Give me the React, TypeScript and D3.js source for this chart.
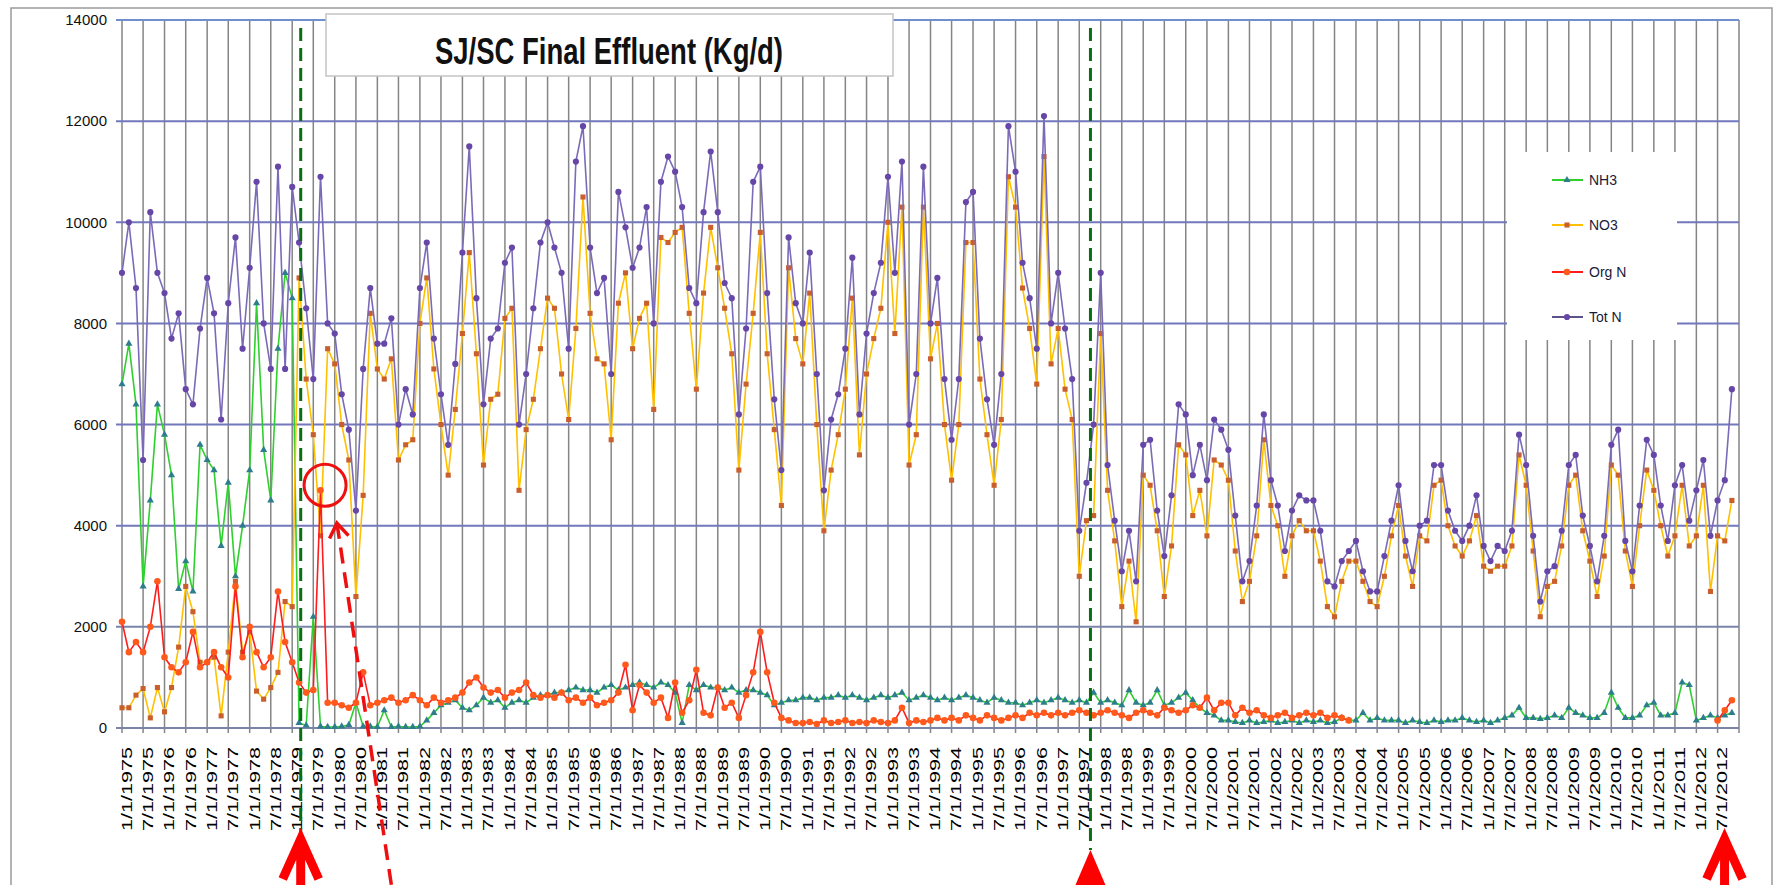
import React, { useEffect, useRef } from 'react';
import * as d3 from 'd3';

const W = 1779;
const H = 885;

// bimonthly samples (Jan, Mar, May, Jul, Sep, Nov), 1975 .. 2012, kg/d
const startYear = 1975;

const totN = [
  9000, 10000, 8700, 5300, 10200, 9000,
  8600, 7700, 8200, 6700, 6400, 7900,
  8900, 8200, 6100, 8400, 9700, 7500,
  9100, 10800, 8000, 7100, 11100, 7100,
  10700, 9600, 8300, 6900, 10900, 8000,
  7800, 6600, 5900, 4300, 7100, 8700,
  7600, 7600, 8100, 6000, 6700, 6200,
  8700, 9600, 7700, 6600, 5600, 7200,
  9400, 11500, 8500, 6400, 7700, 7900,
  9200, 9500, 6000, 7000, 8300, 9600,
  10000, 9500, 9000, 7500, 11200, 11900,
  9500, 8600, 8900, 7000, 10600, 9900,
  9100, 9500, 10300, 8000, 10800, 11300,
  11000, 10300, 8700, 8400, 10200, 11400,
  10200, 8800, 8500, 6200, 7900, 10800,
  11100, 8600, 6500, 5100, 9700, 8400,
  8000, 9400, 7000, 4700, 6100, 6600,
  7500, 9300, 6200, 7800, 8600, 9200,
  10900, 9000, 11200, 6000, 7000, 11100,
  8000, 8900, 6900, 5700, 6900, 10400,
  10600, 7700, 6500, 5600, 7000, 11900,
  11000, 9200, 8500, 7500, 12100, 8000,
  9000, 7900, 6900, 3900, 4850, 6000,
  9000, 5200, 4100, 3100, 3900, 2900,
  5600, 5700, 4300, 3400, 4600, 6400,
  6200, 5000, 5600, 4900, 6100, 5900,
  5500, 4200, 2900, 3300, 4400, 6200,
  4900, 4400, 3500, 4300, 4600, 4500,
  4500, 3900, 2900, 2800, 3300, 3500,
  3700, 3100, 2700, 2700, 3400, 4100,
  4800, 3700, 3100, 4000, 4100, 5200,
  5200, 4300, 3900, 3700, 4000, 4600,
  3600, 3300, 3600, 3500, 3900, 5800,
  5200, 3800, 2500, 3100, 3200, 3900,
  5200, 5400, 4200, 3600, 2900, 3800,
  5600, 5900, 3700, 3100, 4400, 5700,
  5400, 4400, 3700, 4800, 5200, 4100,
  4700, 5300, 3800, 4500, 4900, 6700,
];

const no3 = [
  400, 400, 650, 780, 200, 800,
  320, 800, 1600, 2800, 2300, 1300,
  1300, 1400, 240, 1500, 2900, 1500,
  1900, 730, 570, 800, 1100, 2500,
  2400, 8900, 6900, 5800, 3800, 7500,
  7200, 6000, 5300, 2600, 4600, 8200,
  7100, 6900, 7300, 5300, 5600, 5700,
  8000, 8900, 7100, 6000, 5000, 6300,
  7800, 9400, 7400, 5200, 6500, 6600,
  8100, 8300, 4700, 5900, 6500, 7500,
  8500, 8300, 7000, 6100, 7900, 10500,
  8200, 7300, 7200, 5700, 8400, 9000,
  7500, 8100, 8400, 6300, 9700, 9600,
  9800, 9900, 8200, 6700, 8600, 9900,
  9100, 8300, 7400, 5100, 6800, 8200,
  9800, 7400, 5900, 4400, 9100, 7700,
  7200, 8600, 6000, 3900, 5100, 5800,
  6700, 8500, 5400, 7000, 7700, 8300,
  10000, 7800, 10300, 5200, 5800, 10300,
  7300, 8000, 6000, 4900, 6000, 9600,
  9600, 6900, 5800, 4800, 6100, 10900,
  10300, 8700, 7900, 6800, 11300, 7200,
  7900, 6700, 6100, 3000, 4100, 4200,
  7800, 4700, 3700, 2400, 3300, 2100,
  5000, 4800, 3900, 2600, 3600, 5600,
  5400, 4200, 4700, 3800, 5300, 5200,
  4900, 3500, 2500, 2900, 3800, 5700,
  4400, 4000, 3000, 3800, 4100, 3900,
  3900, 3300, 2400, 2200, 2900, 3300,
  3300, 2900, 2500, 2400, 3000, 3800,
  4400, 3400, 2800, 3800, 3700, 4800,
  4900, 4000, 3600, 3400, 3700, 4200,
  3200, 3100, 3200, 3200, 3600, 5400,
  4800, 3500, 2200, 2800, 2900, 3600,
  4800, 5000, 3900, 3300, 2600, 3400,
  5200, 5000, 3500, 2800, 4000, 5100,
  4700, 4000, 3400, 3800, 4800, 3600,
  3800, 4800, 2700, 3800, 3700, 4500,
];

const nh3 = [
  6800, 7600, 6400, 2800, 4500, 6400,
  5800, 5000, 2750, 3300, 2700, 5600,
  5300, 5100, 3600, 4850, 3000, 4000,
  5100, 8400, 5500, 4500, 7500, 9000,
  8500, 100, 50, 2200, 30, 20,
  20, 30, 60, 500, 30, 30,
  20, 350, 20, 30, 20, 20,
  30, 150, 300, 450, 500, 550,
  400, 350, 450, 600, 500, 550,
  400, 500, 550, 500, 600, 650,
  650, 700, 700, 750, 800, 750,
  750, 700, 800, 850, 750, 800,
  850, 900, 850, 800, 900, 850,
  700, 100, 850, 750, 850, 800,
  800, 750, 800, 700, 750, 750,
  700, 650, 450, 500, 550, 550,
  600, 600, 550, 600, 600, 650,
  600, 650, 600, 550, 600, 650,
  600, 650, 700, 550, 600, 650,
  600, 550, 600, 550, 600, 650,
  600, 550, 500, 600, 550, 500,
  500, 450, 500, 550, 500, 550,
  600, 550, 500, 550, 500, 700,
  500, 550, 500, 450, 750, 500,
  450, 500, 750, 450, 500, 600,
  700, 550, 400, 300, 250, 150,
  150, 120, 100, 150, 100, 120,
  150, 100, 120, 150, 100, 150,
  120, 150, 100, 120, 200, 150,
  150, 300, 150, 200, 150, 150,
  150, 100, 150, 120, 100, 150,
  120, 150, 150, 200, 150, 120,
  150, 100, 150, 200, 250, 400,
  200, 200, 180, 200, 250, 200,
  400, 300, 250, 200, 200, 300,
  700, 400, 200, 200, 250, 450,
  500, 250, 250, 300, 900, 850,
  150, 200, 250, 200, 250, 300,
];

const orgN: (number | null)[] = [
  2100, 1500, 1700, 1500, 2000, 2900,
  1400, 1200, 1100, 1300, 1900, 1200,
  1300, 1500, 1200, 1000, 2800, 1400,
  2000, 1500, 1200, 1400, 2700, 1700,
  1300, 900, 700, 750, 4700, 500,
  500, 450, 400, 500, 1100, 450,
  500, 550, 600, 500, 550, 650,
  550, 450, 600, 500, 550, 600,
  700, 900, 1000, 800, 700, 750,
  600, 700, 750, 900, 650, 600,
  650, 600, 700, 550, 600, 500,
  600, 450, 500, 550, 700, 1250,
  350, 850, 700, 500, 600, 200,
  900, 300, 550, 1150, 300, 250,
  800, 400, 500, 200, 650, 1100,
  1900, 1100, 500, 200, 150, 100,
  100, 120, 80, 150, 100, 120,
  150, 100, 120, 100, 150, 120,
  100, 150, 400, 100, 150, 120,
  150, 200, 150, 200, 150, 250,
  200, 150, 250, 200, 150, 200,
  250, 200, 300, 250, 300, 250,
  300, 250, 300, 350, 300, 250,
  300, 350, 300, 250, 200, 300,
  350, 300, 250, 400, 350, 300,
  350, 450, 400, 600, 350, 500,
  500, 250, 400, 300, 350, 250,
  200, 250, 300, 200, 250, 300,
  250, 300, 200, 250, 200, 150,
  null, null, null, null, null, null,
  null, null, null, null, null, null,
  null, null, null, null, null, null,
  null, null, null, null, null, null,
  null, null, null, null, null, null,
  null, null, null, null, null, null,
  null, null, null, null, null, null,
  null, null, null, null, null, null,
  null, null, null, 150, 350, 550,
];

const seriesNames = ['NH3', 'NO3', 'Org N', 'Tot N'];
const yTicks = [0, 2000, 4000, 6000, 8000, 10000, 12000, 14000];
const labelYears = d3.range(1975, 2013);
const xTickLabels = labelYears.flatMap((yr) => [`1/1/${yr}`, `7/1/${yr}`]);
const titleText = 'SJ/SC Final Effluent (Kg/d)';

// annotation anchors
const dashedDates = [new Date(1979, 2, 15), new Date(1997, 9, 5)];
const arrowDates = [new Date(1979, 2, 15), new Date(1997, 9, 5), new Date(2012, 7, 30)];
const circleAt = { date: new Date(1979, 9, 10), value: 4800 };
const pointerTip = { date: new Date(1980, 0, 20), value: 4050 };
const pointerTail = { date: new Date(1981, 4, 1), value: -3100 };

const App = () => {
  const svgRef = useRef<SVGSVGElement>(null);

  useEffect(() => {
    const svg = d3.select(svgRef.current);
    svg.selectAll('*').remove();

    const x = d3
      .scaleTime()
      .domain([new Date(1975, 0, 1), new Date(2013, 0, 1)])
      .range([122, 1739]);
    const y = d3.scaleLinear().domain([0, 14000]).range([728, 20]);
    const dateAt = (i: number) => new Date(startYear, i * 2, 1);
    const font = "'Liberation Sans', Arial, sans-serif";

    svg.append('rect').attr('width', W).attr('height', H).attr('fill', '#fff');

    // chart frame
    svg
      .append('rect')
      .attr('x', 11)
      .attr('y', 8)
      .attr('width', 1761)
      .attr('height', 900)
      .attr('fill', 'none')
      .attr('stroke', '#9a9a9a')
      .attr('stroke-width', 1.5);

    // vertical gridlines every half year
    const halfYears = d3.timeMonth.every(6)!.range(new Date(1975, 0, 1), new Date(2013, 0, 2));
    svg
      .append('g')
      .selectAll('line')
      .data(halfYears)
      .join('line')
      .attr('x1', (d) => x(d))
      .attr('x2', (d) => x(d))
      .attr('y1', y(14000))
      .attr('y2', y(0) + 5)
      .attr('stroke', '#858585')
      .attr('stroke-width', 1.5);

    // horizontal gridlines
    svg
      .append('g')
      .selectAll('line')
      .data(yTicks)
      .join('line')
      .attr('x1', 116)
      .attr('x2', x.range()[1])
      .attr('y1', (d) => y(d))
      .attr('y2', (d) => y(d))
      .attr('stroke', (d) => (d <= 2000 ? '#7a84a8' : d === 14000 ? '#6f8fcf' : '#7278bb'))
      .attr('stroke-width', 2);

    // y labels
    svg
      .append('g')
      .selectAll('text')
      .data(yTicks)
      .join('text')
      .attr('x', 107)
      .attr('y', (d) => y(d))
      .attr('dy', '0.35em')
      .attr('text-anchor', 'end')
      .attr('font-family', font)
      .attr('font-size', 15)
      .attr('fill', '#111')
      .text((d) => d);

    // x labels, rotated
    svg
      .append('g')
      .selectAll('text')
      .data(xTickLabels)
      .join('text')
      .attr('transform', (d, i) => `translate(${x(halfYears[i]) + 5},747) rotate(-90)`)
      .attr('dy', '0.35em')
      .attr('text-anchor', 'end')
      .attr('font-family', font)
      .attr('font-size', 14)
      .attr('textLength', 84)
      .attr('lengthAdjust', 'spacingAndGlyphs')
      .attr('fill', '#000')
      .text((d) => d);

    const series = [
      { name: seriesNames[0], values: nh3, line: '#2fcf2f', fill: '#2e7d8c', symbol: d3.symbolTriangle, size: 22 },
      { name: seriesNames[1], values: no3, line: '#ffc000', fill: '#c95f2c', symbol: d3.symbolSquare, size: 26 },
      { name: seriesNames[2], values: orgN, line: '#ff1c1c', fill: '#ff5a1c', symbol: d3.symbolCircle, size: 34 },
      { name: seriesNames[3], values: totN, line: '#7b6ab8', fill: '#6647a8', symbol: d3.symbolCircle, size: 30 },
    ];

    const line = d3
      .line<number | null>()
      .defined((v) => v != null)
      .x((_, i) => x(dateAt(i)))
      .y((v) => y(v as number));

    series.forEach((s) => {
      const g = svg.append('g');
      g.append('path')
        .attr('d', line(s.values as (number | null)[]))
        .attr('fill', 'none')
        .attr('stroke', s.line)
        .attr('stroke-width', 1.6);
      const pts = (s.values as (number | null)[])
        .map((v, i) => ({ v, i }))
        .filter((p) => p.v != null);
      g.selectAll('path.m')
        .data(pts)
        .join('path')
        .attr('class', 'm')
        .attr('transform', (p) => `translate(${x(dateAt(p.i))},${y(p.v as number)})`)
        .attr('d', d3.symbol().type(s.symbol).size(s.size)())
        .attr('fill', s.fill);
    });

    // legend
    const lg = svg.append('g');
    lg.append('rect')
      .attr('x', 1507)
      .attr('y', 152)
      .attr('width', 170)
      .attr('height', 188)
      .attr('fill', '#fff');
    const legendY = [180, 225, 272, 317];
    series.forEach((s, i) => {
      lg.append('line')
        .attr('x1', 1552)
        .attr('x2', 1583)
        .attr('y1', legendY[i])
        .attr('y2', legendY[i])
        .attr('stroke', i === 3 ? '#5a5288' : s.line)
        .attr('stroke-width', 2);
      lg.append('path')
        .attr('transform', `translate(1567,${legendY[i]})`)
        .attr('d', d3.symbol().type(s.symbol).size(s.size)())
        .attr('fill', s.fill);
      lg.append('text')
        .attr('x', 1589)
        .attr('y', legendY[i])
        .attr('dy', '0.35em')
        .attr('font-family', font)
        .attr('font-size', 14)
        .attr('fill', '#1a1a3a')
        .text(s.name);
    });

    // title box
    svg
      .append('rect')
      .attr('x', 326)
      .attr('y', 14)
      .attr('width', 567)
      .attr('height', 62)
      .attr('fill', '#fff')
      .attr('stroke', '#c4c4c4')
      .attr('stroke-width', 1.5);
    svg
      .append('text')
      .attr('x', 609)
      .attr('y', 64)
      .attr('text-anchor', 'middle')
      .attr('font-family', "'Liberation Sans Narrow', 'Liberation Sans', Arial, sans-serif")
      .attr('font-weight', 'bold')
      .attr('font-size', 36)
      .attr('textLength', 348)
      .attr('lengthAdjust', 'spacingAndGlyphs')
      .attr('fill', '#111')
      .text(titleText);

    // green dashed markers
    dashedDates.forEach((d, i) => {
      svg
        .append('line')
        .attr('x1', x(d))
        .attr('x2', x(d))
        .attr('y1', 28)
        .attr('y2', i === 0 ? 838 : 850)
        .attr('stroke', '#0b6e12')
        .attr('stroke-width', 3)
        .attr('stroke-dasharray', '13 7');
    });

    // circled Org N spike
    svg
      .append('circle')
      .attr('cx', x(circleAt.date))
      .attr('cy', y(circleAt.value))
      .attr('r', 21)
      .attr('fill', 'none')
      .attr('stroke', '#ee1010')
      .attr('stroke-width', 3);

    // dashed pointer to the circle
    const tx = x(pointerTip.date);
    const ty = y(pointerTip.value);
    const sx = x(pointerTail.date);
    const sy = y(pointerTail.value);
    svg
      .append('line')
      .attr('x1', sx)
      .attr('y1', sy)
      .attr('x2', tx)
      .attr('y2', ty)
      .attr('stroke', '#ee1010')
      .attr('stroke-width', 3.5)
      .attr('stroke-dasharray', '16 9');
    const ang = Math.atan2(sy - ty, sx - tx);
    const head = [-0.6, 0.6].map((a) => [tx + 17 * Math.cos(ang + a), ty + 17 * Math.sin(ang + a)]);
    svg
      .append('path')
      .attr('d', `M${head[0][0]},${head[0][1]}L${tx},${ty}L${head[1][0]},${head[1][1]}`)
      .attr('fill', 'none')
      .attr('stroke', '#ee1010')
      .attr('stroke-width', 3.5);

    // big red arrows under the axis
    arrowDates.forEach((d, i) => {
      const ax = x(d);
      if (i === 1) {
        svg
          .append('path')
          .attr('d', `M${ax},850L${ax - 15},${H}L${ax + 15},${H}Z`)
          .attr('fill', '#ff0000');
      } else {
        svg
          .append('path')
          .attr('d', `M${ax - 18},879L${ax},839L${ax + 18},879M${ax},843L${ax},${H}`)
          .attr('fill', 'none')
          .attr('stroke', '#ff0000')
          .attr('stroke-width', 9);
      }
    });
  }, []);

  return (
    <svg
      ref={svgRef}
      width={W}
      height={H}
      style={{ position: 'absolute', left: 0, top: 0, display: 'block' }}
    />
  );
};

export default App;
